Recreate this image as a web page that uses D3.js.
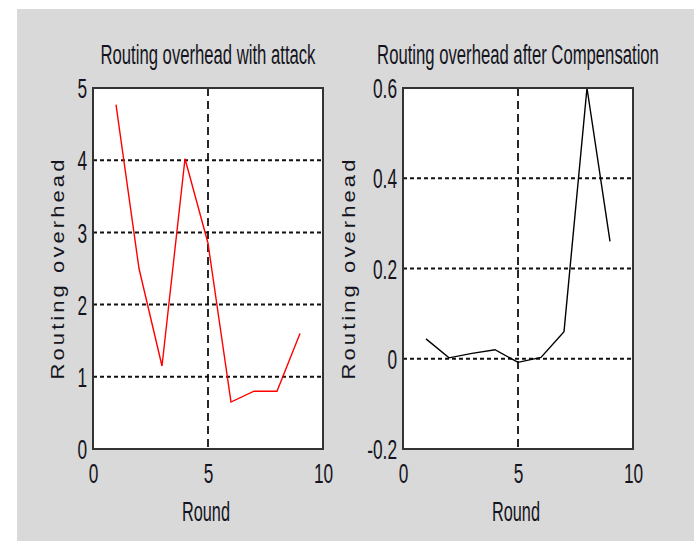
<!DOCTYPE html>
<html>
<head>
<meta charset="utf-8">
<script src="https://cdn.jsdelivr.net/npm/d3@7"></script>
<style>
  body { margin: 0; background: #fff; }
  svg text { font-family: "Liberation Sans", Arial, sans-serif; fill: #141420; }
</style>
</head>
<body>
<div id="chart"></div>
<script>
// data
const rounds = [1, 2, 3, 4, 5, 6, 7, 8, 9];
const overheadAttack = [4.77, 2.5, 1.15, 4.02, 2.85, 0.65, 0.8, 0.8, 1.6];
const overheadComp = [0.044, 0.002, 0.012, 0.02, -0.008, 0.003, 0.06, 0.6, 0.26];
const xTicks = [0, 5, 10];
const yTicksAttack = [0, 1, 2, 3, 4, 5];
const yTicksComp = [-0.2, 0, 0.2, 0.4, 0.6];

const width = 699, height = 541;
const svg = d3.select("#chart").append("svg")
  .attr("width", width).attr("height", height);

// grey figure background
svg.append("rect")
  .attr("x", 17).attr("y", 9)
  .attr("width", 677).attr("height", 532)
  .attr("fill", "#d9d9d9");

const panels = [
  { title: "Routing overhead with attack", titleW: 215, left: 93, right: 323,
    yDomain: [0, 5], yTicks: yTicksAttack, values: overheadAttack, color: "#ff0000", ylabX: 64 },
  { title: "Routing overhead after Compensation", titleW: 282, left: 403, right: 633,
    yDomain: [-0.2, 0.6], yTicks: yTicksComp, values: overheadComp, color: "#000000", ylabX: 355 }
];
const plotTop = 88, plotBottom = 449;
const sx = 0.64; // horizontal squash for the narrow looking numbers

// put a text centred at (cx, y) and squeeze it to width w
function fitText(g, str, cx, y, size, w) {
  const t = g.append("text")
    .attr("text-anchor", "middle")
    .attr("font-size", size)
    .text(str);
  const len = t.node().getComputedTextLength();
  t.attr("transform", `translate(${cx},${y}) scale(${w / len},1)`);
  return t;
}

panels.forEach((p) => {
  const x = d3.scaleLinear().domain([0, 10]).range([p.left, p.right]);
  const y = d3.scaleLinear().domain(p.yDomain).range([plotBottom, plotTop]);
  const g = svg.append("g");

  g.append("rect")
    .attr("x", p.left).attr("y", plotTop)
    .attr("width", p.right - p.left).attr("height", plotBottom - plotTop)
    .attr("fill", "#fff");

  // grid
  g.selectAll(".hgrid")
    .data(p.yTicks.slice(1, -1))
    .enter().append("line")
    .attr("x1", p.left).attr("x2", p.right)
    .attr("y1", (d) => y(d)).attr("y2", (d) => y(d))
    .attr("stroke", "#111").attr("stroke-width", 2)
    .attr("stroke-dasharray", "4,3");
  g.selectAll(".vgrid")
    .data(xTicks.slice(1, -1))
    .enter().append("line")
    .attr("x1", (d) => x(d)).attr("x2", (d) => x(d))
    .attr("y1", plotTop).attr("y2", plotBottom)
    .attr("stroke", "#111").attr("stroke-width", 1.8)
    .attr("stroke-dasharray", "8,5");

  // data line
  const line = d3.line().x((d, i) => x(rounds[i])).y((d) => y(d));
  g.append("path")
    .datum(p.values)
    .attr("d", line)
    .attr("fill", "none")
    .attr("stroke", p.color)
    .attr("stroke-width", 1.4);

  // axes box
  g.append("rect")
    .attr("x", p.left).attr("y", plotTop)
    .attr("width", p.right - p.left).attr("height", plotBottom - plotTop)
    .attr("fill", "none").attr("stroke", "#333").attr("stroke-width", 2);

  // y axis labels (plain hyphen for the minus, like the original)
  const yAxis = g.append("g")
    .attr("transform", `translate(${p.left},0)`)
    .call(d3.axisLeft(y).tickValues(p.yTicks).tickSize(0).tickPadding(0)
      .tickFormat((d) => String(+d.toFixed(1))));
  yAxis.select(".domain").remove();
  yAxis.selectAll("text")
    .attr("font-size", 27)
    .attr("x", -6 / sx)
    .attr("dy", "0.36em")
    .attr("text-anchor", "end")
    .attr("transform", `scale(${sx},1)`)
    .style("font-family", "'Liberation Sans', Arial, sans-serif")
    .style("fill", "#141420");

  // x axis labels
  const xAxis = g.append("g")
    .attr("transform", `translate(0,${plotBottom})`)
    .call(d3.axisBottom(x).tickValues(xTicks).tickSize(0).tickPadding(0));
  xAxis.select(".domain").remove();
  xAxis.selectAll("text")
    .attr("font-size", 27)
    .attr("y", 34)
    .attr("dy", 0)
    .attr("transform", `scale(${sx},1)`)
    .style("font-family", "'Liberation Sans', Arial, sans-serif")
    .style("fill", "#141420");

  // title
  fitText(g, p.title, (p.left + p.right) / 2, 64, 28, p.titleW);

  // x label
  fitText(g, "Round", (p.left + p.right) / 2 - 2, 521, 28, 48);

  // y label: wide letters with some spacing
  const yl = g.append("text")
    .attr("text-anchor", "middle")
    .attr("font-size", 18)
    .attr("letter-spacing", 2.5)
    .text("Routing overhead");
  const ylen = yl.node().getComputedTextLength();
  yl.attr("transform", `translate(${p.ylabX},268) rotate(-90) scale(${223 / ylen},1)`);
});
</script>
</body>
</html>
